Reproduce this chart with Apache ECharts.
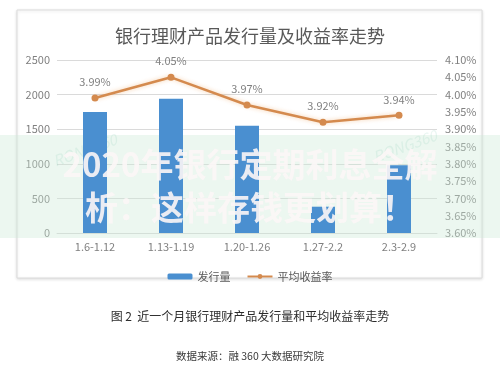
<!DOCTYPE html>
<html>
<head>
<meta charset="utf-8">
<script src="https://cdn.jsdelivr.net/npm/echarts@6/dist/echarts.min.js"></script>
<style>
  html, body { margin: 0; padding: 0; background: #ffffff; }
  #chart { width: 500px; height: 375px; }
</style>
</head>
<body>
<div id="chart"></div>
<script>
// Weekly issuance of bank wealth-management products and their average yield
const weeks = ['1.6-1.12', '1.13-1.19', '1.20-1.26', '1.27-2.2', '2.3-2.9'];
const issueCount = [1750, 1940, 1550, 380, 980];
const avgYield = [3.99, 4.05, 3.97, 3.92, 3.94];

const countAxis = { min: 0, max: 2500, interval: 500 };
const yieldAxis = { min: 3.6, max: 4.1, interval: 0.05 };

const titleText = '银行理财产品发行量及收益率走势';
const captionText = '图 2  近一个月银行理财产品发行量和平均收益率走势';
const sourceText = '数据来源：融 360 大数据研究院';
const bannerLine1 = '2020年银行定期利息全解';
const bannerLine2 = '析：这样存钱更划算！';

const FONT = '"Noto Sans CJK SC", "Noto Sans", sans-serif';
const BAR_BLUE = '#4a8fd0';
const LINE_ORANGE = '#d48a4e';
const AXIS_GREY = '#808080';

const chart = echarts.init(document.getElementById('chart'), null, { renderer: 'canvas' });

chart.setOption({
  backgroundColor: '#ffffff',
  animation: false,
  textStyle: { fontFamily: FONT },
  title: {
    text: titleText,
    left: 'center',
    top: 22,
    textStyle: { fontSize: 18, fontWeight: 'normal', color: '#595959', fontFamily: FONT }
  },
  grid: { left: 57, right: 63, top: 60, bottom: 142, containLabel: false },
  legend: {
    top: 266,
    left: 'center',
    itemWidth: 25,
    itemHeight: 6,
    itemGap: 16,
    textStyle: { fontSize: 11, color: '#595959', fontFamily: FONT },
    data: ['发行量', '平均收益率']
  },
  xAxis: {
    type: 'category',
    data: weeks,
    axisLine: { show: true, lineStyle: { color: '#d9d9d9' } },
    axisTick: { show: false },
    axisLabel: { color: AXIS_GREY, fontSize: 11, margin: 8 }
  },
  yAxis: [
    {
      type: 'value',
      min: countAxis.min,
      max: countAxis.max,
      interval: countAxis.interval,
      axisLine: { show: false },
      axisTick: { show: false },
      axisLabel: { color: AXIS_GREY, fontSize: 11, margin: 7, formatter: v => String(v) },
      splitLine: { show: true, lineStyle: { color: '#dadada' } }
    },
    {
      type: 'value',
      min: yieldAxis.min,
      max: yieldAxis.max,
      interval: yieldAxis.interval,
      alignTicks: false,
      axisLine: { show: false },
      axisTick: { show: false },
      splitLine: { show: false },
      axisLabel: {
        color: AXIS_GREY,
        fontSize: 11,
        margin: 8,
        formatter: v => v.toFixed(2) + '%'
      }
    }
  ],
  series: [
    {
      name: '发行量',
      type: 'bar',
      yAxisIndex: 0,
      data: issueCount,
      barWidth: 24,
      itemStyle: { color: BAR_BLUE },
      z: 5
    },
    {
      name: '平均收益率',
      type: 'line',
      yAxisIndex: 1,
      data: avgYield,
      symbol: 'circle',
      symbolSize: 7,
      lineStyle: {
        color: LINE_ORANGE,
        width: 2.5,
        shadowColor: 'rgba(235,150,70,0.45)',
        shadowBlur: 4
      },
      itemStyle: { color: LINE_ORANGE },
      label: {
        show: true,
        position: 'top',
        distance: 7,
        color: AXIS_GREY,
        fontSize: 11,
        formatter: p => p.value.toFixed(2) + '%'
      },
      z: 6
    }
  ],
  graphic: [
    // framed panel around the chart
    {
      type: 'rect',
      z: -10,
      silent: true,
      shape: { x: 17, y: 10, width: 465, height: 268 },
      style: {
        fill: '#ffffff',
        stroke: '#dcdcdc',
        lineWidth: 1,
        shadowColor: 'rgba(0,0,0,0.12)',
        shadowBlur: 3,
        shadowOffsetY: 1
      }
    },
    // caption under the panel
    {
      type: 'text',
      silent: true,
      left: 'center',
      top: 310,
      style: { text: captionText, font: '12px ' + FONT, fill: '#2b2b2b' }
    },
    {
      type: 'text',
      silent: true,
      left: 'center',
      top: 351,
      style: { text: sourceText, font: '10.5px ' + FONT, fill: '#3a3a3a' }
    },
    // translucent mint banner across the middle, beneath the bars
    {
      type: 'rect',
      z: 1,
      silent: true,
      shape: { x: 0, y: 135, width: 500, height: 103 },
      style: { fill: 'rgba(205,235,215,0.38)' }
    },
    // faint site marks inside the banner
    {
      type: 'text',
      z: 2,
      silent: true,
      x: 85,
      y: 150,
      rotation: 0.35,
      style: {
        text: 'RONG360',
        font: 'italic 15px ' + FONT,
        fill: 'rgba(140,205,185,0.18)',
        align: 'center',
        verticalAlign: 'middle'
      }
    },
    {
      type: 'text',
      z: 2,
      silent: true,
      x: 405,
      y: 146,
      rotation: 0.35,
      style: {
        text: 'RONG360',
        font: 'italic 15px ' + FONT,
        fill: 'rgba(140,205,185,0.18)',
        align: 'center',
        verticalAlign: 'middle'
      }
    },
    // headline banner text
    {
      type: 'text',
      z: 60,
      silent: true,
      x: 250,
      y: 164,
      style: {
        text: bannerLine1,
        font: 'bold 33px ' + FONT,
        fill: 'rgba(252,246,246,0.9)',
        align: 'center',
        verticalAlign: 'middle',
        shadowColor: 'rgba(70,40,40,0.45)',
        shadowBlur: 2,
        shadowOffsetX: 1,
        shadowOffsetY: 1
      }
    },
    {
      type: 'text',
      z: 60,
      silent: true,
      x: 250,
      y: 207,
      style: {
        text: bannerLine2,
        font: 'bold 33px ' + FONT,
        fill: 'rgba(252,246,246,0.9)',
        align: 'center',
        verticalAlign: 'middle',
        shadowColor: 'rgba(70,40,40,0.45)',
        shadowBlur: 2,
        shadowOffsetX: 1,
        shadowOffsetY: 1
      }
    }
  ]
});
</script>
</body>
</html>
